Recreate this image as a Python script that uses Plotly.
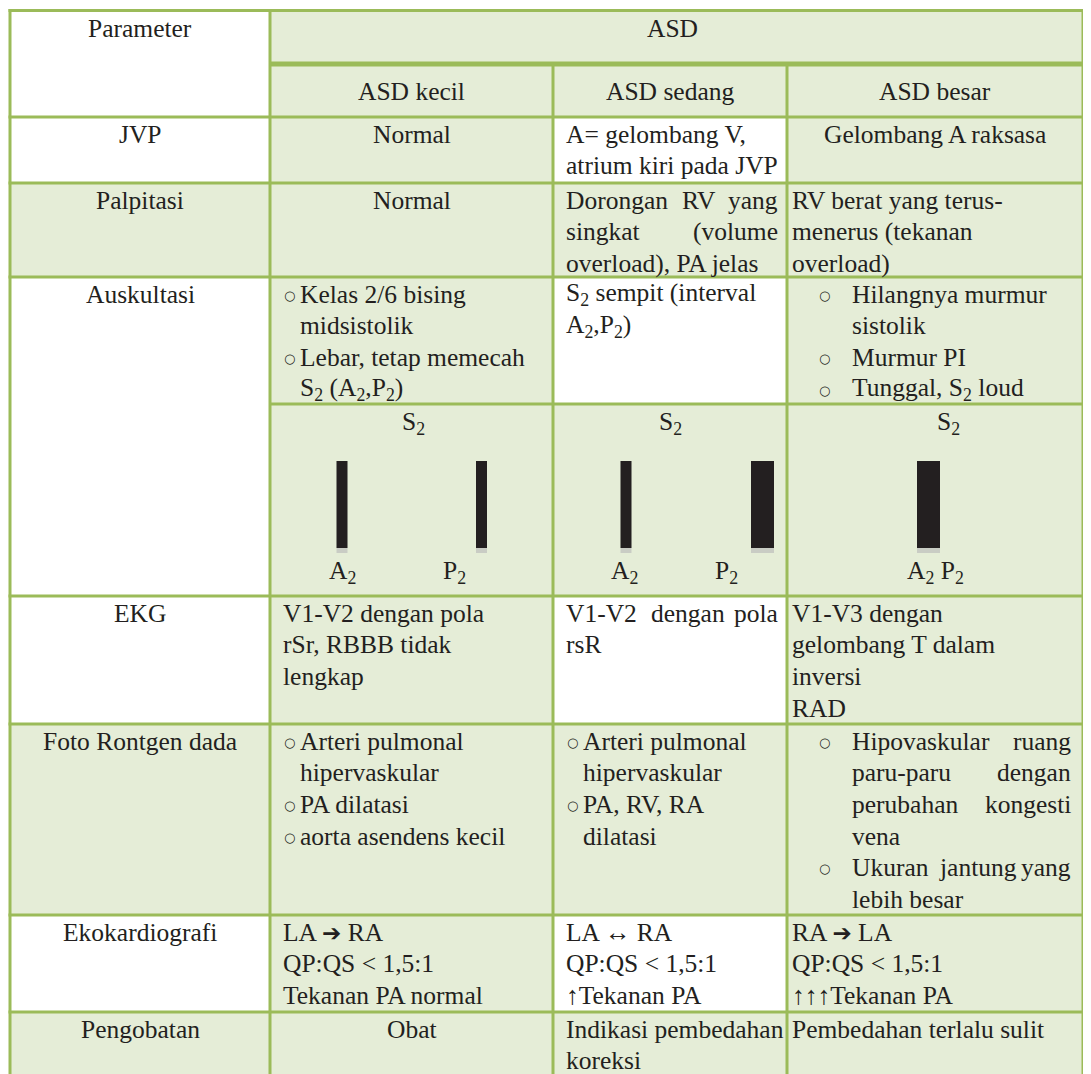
import plotly.graph_objects as go

# ------------------------------------------------------------------ data
header_param = "Parameter"
header_group = "ASD"
groups = ["ASD kecil", "ASD sedang", "ASD besar"]
parameters = ["JVP", "Palpitasi", "Auskultasi", "EKG", "Foto Rontgen dada",
              "Ekokardiografi", "Pengobatan"]

# "○ " starts a bullet item, "  " continues it
jvp = [["Normal"],
       ["A= gelombang V,", "atrium kiri pada JVP"],
       ["Gelombang A raksasa"]]
palpitasi = [["Normal"],
             ["Dorongan RV yang", "singkat (volume", "overload), PA jelas"],
             ["RV berat yang terus-", "menerus (tekanan", "overload)"]]
auskultasi = [["○ Kelas 2/6 bising", "  midsistolik", "○ Lebar, tetap memecah",
               "  S<sub>2</sub> (A<sub>2</sub>,P<sub>2</sub>)"],
              ["S<sub>2</sub> sempit (interval", "A<sub>2</sub>,P<sub>2</sub>)"],
              ["○ Hilangnya murmur", "  sistolik", "○ Murmur PI",
               "○ Tunggal, S<sub>2</sub> loud"]]
s2_title = "S<sub>2</sub>"
s2_components = [["A<sub>2</sub>", "P<sub>2</sub>"],
                 ["A<sub>2</sub>", "P<sub>2</sub>"],
                 ["A<sub>2</sub> P<sub>2</sub>"]]
s2_intensity = [[1, 1], [1, 2], [2]]          # relative loudness -> bar thickness
ekg = [["V1-V2 dengan pola", "rSr, RBBB tidak", "lengkap"],
       ["V1-V2 dengan pola", "rsR"],
       ["V1-V3 dengan", "gelombang T dalam", "inversi", "RAD"]]
foto = [["○ Arteri pulmonal", "  hipervaskular", "○ PA dilatasi", "○ aorta asendens kecil"],
        ["○ Arteri pulmonal", "  hipervaskular", "○ PA, RV, RA", "  dilatasi"],
        ["○ Hipovaskular ruang", "  paru-paru dengan", "  perubahan kongesti", "  vena",
         "○ Ukuran jantung yang", "  lebih besar"]]
eko = [["LA → RA", "QP:QS < 1,5:1", "Tekanan PA normal"],
       ["LA ↔ RA", "QP:QS < 1,5:1", "↑Tekanan PA"],
       ["RA → LA", "QP:QS < 1,5:1", "↑↑↑Tekanan PA"]]
pengobatan = [["Obat"],
              ["Indikasi pembedahan", "koreksi"],
              ["Pembedahan terlalu sulit"]]

# ------------------------------------------------------------------ style / layout
W, H = 1091, 1074
PAGE_OFF = 8                     # default body margin of the html page
LINE = "#9BBB59"
FILL = "#E5EDD7"
WHITE = "#FFFFFF"
INK = "#231F20"
SERIF = "Liberation Serif"
FS = 25.5
LS = 31.7       # line spacing
FIRST = 17      # first line offset inside a row

COLX = [10, 270, 553, 787, 1083]
Y_TOP, Y_MID, Y_HDR = 10.5, 64, 117
ROW_Y = [117, 183, 277, 596, 724, 915, 1012, 1100]
AUSK_SPLIT = 404

LEFT = [281, 564, 790]          # text anchor left per data column
RIGHT = [538, 780, 1073]        # justification limit
BULLET = [282, 565, 817]
INDENT = [298, 581, 850]

cell_mode = {  # (row, col) -> alignment
    (0, 0): "center", (0, 2): "center", (1, 0): "center", (6, 0): "center",
    (1, 1): "justify", (3, 1): "justify", (4, 2): "justify",
}
white_param = {0, 2, 3, 5}
banded_rows = {0, 2, 3, 5}       # data cells: green / white / green

# Times widths (per 1000 em) for justification
TW = {' ': 250, '(': 333, ')': 333, ',': 250, '-': 333, '.': 250, '/': 278, ':': 278}
TW.update({c: 500 for c in "0123456789"})
TW.update(dict(zip("ABCDEFGHIJKLMNOPQRSTUVWXYZ",
                   [722, 667, 667, 722, 611, 556, 722, 722, 333, 389, 722, 611, 889, 722,
                    722, 556, 722, 667, 556, 611, 722, 722, 944, 722, 722, 611])))
TW.update(dict(zip("abcdefghijklmnopqrstuvwxyz",
                   [444, 500, 444, 500, 444, 333, 500, 500, 278, 278, 500, 278, 778, 500,
                    500, 500, 500, 333, 389, 278, 500, 500, 722, 500, 500, 444])))


def tw(s):
    return sum(TW.get(c, 500) for c in s) * FS / 1000.0


def esc(s):
    s = s.replace("<", "&lt;").replace("&lt;sub>", "<sub>").replace("&lt;/sub>", "</sub>")
    s = s.replace("→", '<span style="font-family:DejaVu Sans;font-size:23px">➔</span>')
    return s


fig = go.Figure()
shapes = []
ann = []


def rect(x0, y0, x1, y1, color):
    shapes.append(dict(type="rect", xref="x", yref="y", x0=x0, y0=y0, x1=x1, y1=y1,
                       fillcolor=color, line=dict(width=0), layer="below"))


def hline(y, x0, x1, w=3):
    shapes.append(dict(type="line", xref="x", yref="y", x0=x0, x1=x1, y0=y, y1=y,
                       line=dict(color=LINE, width=w), layer="below"))


def vline(x, y0, y1, w=3):
    shapes.append(dict(type="line", xref="x", yref="y", x0=x, x1=x, y0=y0, y1=y1,
                       line=dict(color=LINE, width=w), layer="below"))


def text(x, y, s, anchor="left", size=FS, family=SERIF):
    ann.append(dict(x=x, y=y, xref="x", yref="y", text=esc(s), showarrow=False,
                    xanchor=anchor, yanchor="middle",
                    font=dict(family=family, size=size, color=INK)))


def bullet(x, y):
    ann.append(dict(x=x, y=y + 1, xref="x", yref="y", text="○", showarrow=False,
                    xanchor="left", yanchor="middle",
                    font=dict(family="DejaVu Sans", size=13, color=INK)))


def cell(lines, r, c, top):
    mode = cell_mode.get((r, c), "left")
    x0, x1 = COLX[c + 1], COLX[c + 2]
    for i, ln in enumerate(lines):
        y = top + FIRST + i * LS
        if mode == "center":
            text((x0 + x1) / 2, y, ln, "center")
            continue
        xl = LEFT[c]
        body = ln
        if ln.startswith("○ "):
            bullet(BULLET[c], y)
            body, xl = ln[2:], INDENT[c]
        elif ln.startswith("  "):
            body, xl = ln[2:], INDENT[c]
        last = (i == len(lines) - 1) or lines[i + 1].startswith("○ ")
        words = body.split(" ")
        slack = RIGHT[c] - xl - tw(body)
        if mode == "justify" and not last and len(words) > 1 and slack > 5:
            widths = [tw(w) for w in words]
            gap = (RIGHT[c] - xl - sum(widths)) / (len(words) - 1)
            pos = xl
            for k, w in enumerate(words):
                if k == len(words) - 1:
                    text(RIGHT[c], y, w, "right")
                else:
                    text(pos, y, w, "left")
                pos += widths[k] + gap
        else:
            text(xl, y, body, "left")


# ---- fills
rect(COLX[0], Y_TOP, COLX[1], Y_HDR, WHITE)
rect(COLX[1], Y_TOP, COLX[4], Y_HDR, FILL)
for r in range(len(parameters)):
    y0, y1 = ROW_Y[r], ROW_Y[r + 1]
    rect(COLX[0], y0, COLX[1], y1, WHITE if r in white_param else FILL)
    ytxt_end = AUSK_SPLIT if r == 2 else y1
    for c in range(3):
        col = WHITE if (r in banded_rows and c == 1) else FILL
        rect(COLX[c + 1], y0, COLX[c + 2], ytxt_end, col)
    if r == 2:
        rect(COLX[1], AUSK_SPLIT, COLX[4], y1, FILL)

# ---- grid lines
for y in [Y_TOP] + ROW_Y[:-1]:
    hline(y, COLX[0] - 1.5, COLX[4] + 1.5)
hline(Y_MID, COLX[1], COLX[4], 5)
hline(AUSK_SPLIT, COLX[1], COLX[4])
for x in (COLX[0], COLX[1], COLX[4]):
    vline(x, Y_TOP - 1.5, H + 10)
for x in (COLX[2], COLX[3]):
    vline(x, Y_MID, H + 10)

# ---- headers
text((COLX[0] + COLX[1]) / 2, Y_TOP + FIRST + 1, header_param, "center")
text((COLX[1] + COLX[4]) / 2 - 4, Y_TOP + FIRST + 1, header_group, "center")
for c, g in enumerate(groups):
    text((COLX[c + 1] + COLX[c + 2]) / 2, 91, g, "center")

# ---- body
rows = [jvp, palpitasi, auskultasi, ekg, foto, eko, pengobatan]
for r, p in enumerate(parameters):
    top = ROW_Y[r]
    text((COLX[0] + COLX[1]) / 2, top + FIRST, p, "center")
    for c in range(3):
        cell(rows[r][c], r, c, top)

# ---- S2 splitting diagram (bars)
BAR_TOP, BAR_BOT, SHADOW = 461, 548, 5
bar_x = [[342, 481.5], [626, 762.5], [928.5]]
title_x = [413, 670, 948]
label_x = [[342, 454], [624, 726], [935]]
unit = 11
xs, ws = [], []
for c in range(3):
    for k, inten in enumerate(s2_intensity[c]):
        xs.append(bar_x[c][k])
        ws.append(inten * unit + (0 if inten == 1 else 1))
    text(title_x[c], 423, s2_title, "center")
    for k, lab in enumerate(s2_components[c]):
        text(label_x[c][k], 572, lab, "center")

fig.add_trace(go.Bar(x=xs, y=[SHADOW] * len(xs), base=[BAR_BOT] * len(xs), width=ws,
                     marker=dict(color="#C9CCC4", line=dict(width=0)), hoverinfo="skip"))
fig.add_trace(go.Bar(x=xs, y=[BAR_BOT - BAR_TOP] * len(xs), base=[BAR_TOP] * len(xs),
                     width=ws, marker=dict(color=INK, line=dict(width=0)), hoverinfo="skip"))

fig.update_layout(
    width=W - PAGE_OFF, height=H - PAGE_OFF, margin=dict(l=0, r=0, t=0, b=0),
    paper_bgcolor="white", plot_bgcolor="white", showlegend=False, barmode="overlay",
    xaxis=dict(range=[PAGE_OFF, W], visible=False, fixedrange=True),
    yaxis=dict(range=[H, PAGE_OFF], visible=False, fixedrange=True),
    shapes=shapes, annotations=ann,
)
fig.write_html("out.html")
